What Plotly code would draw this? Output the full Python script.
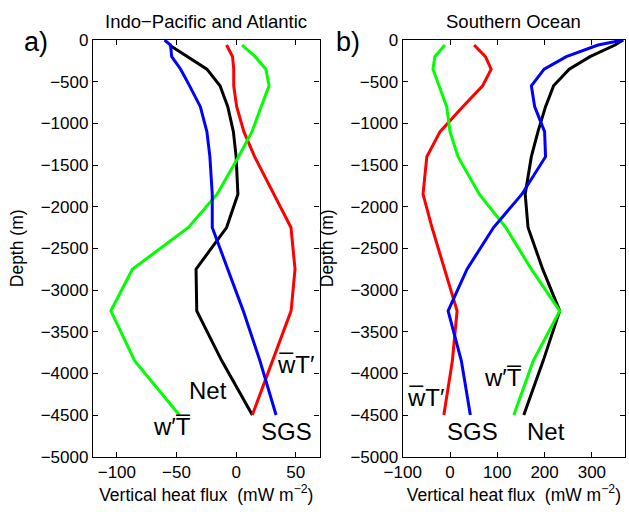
import plotly.graph_objects as go

# Depth levels (m)
depth = [0, -60, -200, -350, -550, -800, -1100, -1400, -1850, -2250, -2750, -3250, -3850, -4500]

# Panel a) Indo-Pacific and Atlantic (mW m^-2)
a_net = [None, -56, -41, -24.5, -13.5, -7, -2.3, 0, 1.5, -8, -33.6, -33, -12, 13.6]
a_mean_w = [None, -8, -3, -2, -2, 0.5, 6.5, 15.5, 31.5, 46, 49.4, 46.1, 30.5, 13.6]   # w-bar T'
a_mean_t = [None, 5, 16, 25, 27.6, 21, 13.3, 2, -16, -40, -87, -105, -85, -47.6]      # w' T-bar
a_sgs = [-60, -55, -54, -46.5, -39, -30, -24.5, -22, -20, -20, -7, 6, 20, 33.5]

# Panel b) Southern Ocean
b_net = [366, 349, 296, 252, 219, 202, 186, 172, 159, 165, 196, 232, 197, 156]
b_mean_w = [None, 51, 75, 87, 69, 27, -21, -49, -57, -38, -11, 15, 5, -13]
b_mean_t = [None, -11, -32, -36, -23, -7, 0, 17, 62, 118, 172, 232, 176, 135]
b_sgs = [366, 313, 246, 199, 172, 179, 200, 202, 152, 92, 36, -4, 24, 43]

xticks_a = [-100, -50, 0, 50]
xticks_b = [-100, 0, 100, 200, 300]
yticks = [0, -500, -1000, -1500, -2000, -2500, -3000, -3500, -4000, -4500, -5000]

lbl_wbarT = "w\u0305T\u2032"
lbl_wTbar = "w\u2032T\u0305"

FONT = "Liberation Sans, Arial, Helvetica, sans-serif"
W, H = 629, 512

fig = go.Figure()
series = [("black", "Net"), ("red", "wT'"), ("#00FF00", "w'T"), ("#0000FF", "SGS")]
pa = [a_net, a_mean_w, a_mean_t, a_sgs]
pb = [b_net, b_mean_w, b_mean_t, b_sgs]
for (col, name), xa in zip(series, pa):
    fig.add_trace(go.Scatter(x=xa, y=depth, mode="lines", line=dict(color=col, width=3),
                             xaxis="x", yaxis="y", showlegend=False, name=name))
for (col, name), xb in zip(series, pb):
    fig.add_trace(go.Scatter(x=xb, y=depth, mode="lines", line=dict(color=col, width=3),
                             xaxis="x2", yaxis="y2", showlegend=False, name=name))

def px_x(p):
    return p / W
def px_y(p):
    return 1 - p / H

TICK = 17
TITLE = 17.5
ax_common = dict(showline=True, linecolor="black", linewidth=1.3, mirror="ticks",
                 ticks="inside", ticklen=5, tickwidth=1, tickcolor="black",
                 showgrid=False, zeroline=False, automargin=False,
                 tickfont=dict(family=FONT, size=TICK, color="black"))
xtitle = "Vertical heat flux\u00a0\u00a0(mW m<sup>\u22122</sup>)"

fig.update_layout(
    width=W, height=H, margin=dict(l=0, r=0, t=0, b=0, autoexpand=False),
    paper_bgcolor="white", plot_bgcolor="white",
    font=dict(family=FONT, color="black"),
    xaxis=dict(domain=[px_x(93), px_x(319.6)], range=[-120, 70], tickvals=xticks_a,
               anchor="y", title=dict(text=xtitle, font=dict(size=TITLE), standoff=4), **ax_common),
    yaxis=dict(domain=[px_y(456.7), px_y(40)], range=[-5000, 0], tickvals=yticks,
               anchor="x", title=dict(text="Depth (m)", font=dict(size=TITLE), standoff=12), **ax_common),
    xaxis2=dict(domain=[px_x(402.7), px_x(625)], range=[-100, 370], tickvals=xticks_b,
                anchor="y2", title=dict(text=xtitle, font=dict(size=TITLE), standoff=4), **ax_common),
    yaxis2=dict(domain=[px_y(456.7), px_y(40)], range=[-5000, 0], tickvals=yticks,
                anchor="x2", title=dict(text="Depth (m)", font=dict(size=TITLE), standoff=12), **ax_common),
)

ann = []
def pann(text, x, y, size):
    ann.append(dict(text=text, x=px_x(x), y=px_y(y), xref="paper", yref="paper",
                    xanchor="center", yanchor="middle", showarrow=False, font=dict(size=size)))
pann("Indo\u2212Pacific and Atlantic", 206.3, 21, 18.5)
pann("Southern Ocean", 513.9, 21, 18.5)
pann("a)", 36, 42, 27)
pann("b)", 348, 42, 27)

lab_font = dict(size=24)
for txt, x, y, xr, yr in [
    (lbl_wTbar, -53.8, -4640, "x", "y"),
    ("SGS", 42.3, -4700, "x", "y"),
    ("Net", -23.6, -4210, "x", "y"),
    (lbl_wbarT, 50.3, -3890, "x", "y"),
    (lbl_wbarT, -51.4, -4290, "x2", "y2"),
    ("SGS", 48, -4700, "x2", "y2"),
    (lbl_wTbar, 111.5, -4050, "x2", "y2"),
    ("Net", 202.5, -4700, "x2", "y2"),
]:
    ann.append(dict(text=txt, x=x, y=y, xref=xr, yref=yr, xanchor="center", yanchor="middle",
                    showarrow=False, font=lab_font))
fig.update_layout(annotations=ann)

fig.write_html("out.html")
